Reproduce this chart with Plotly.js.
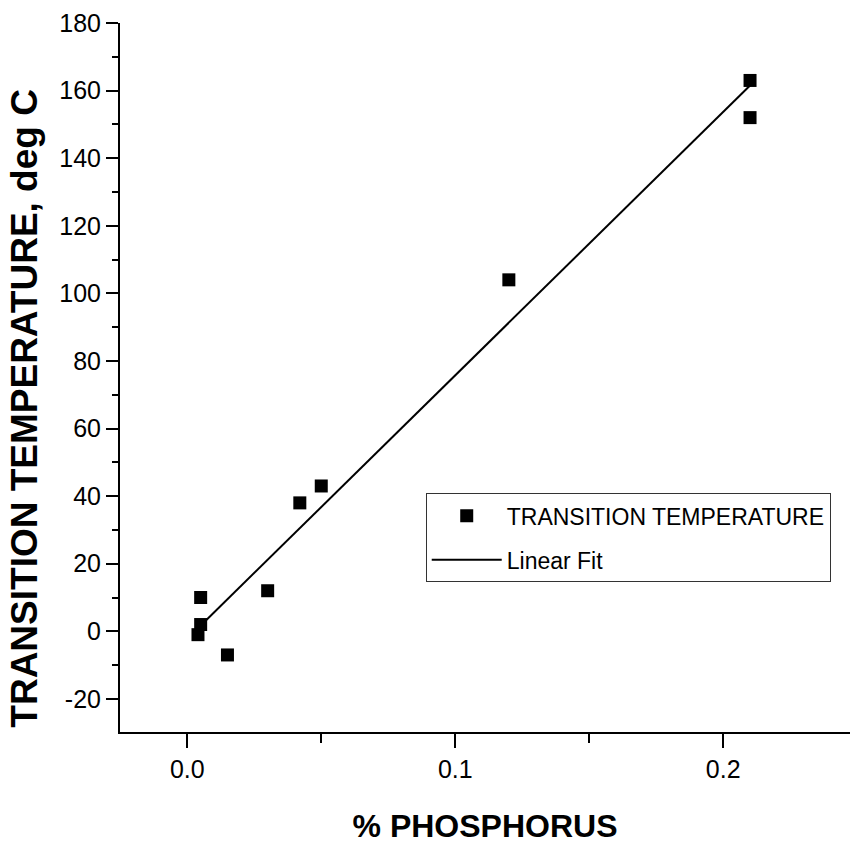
<!DOCTYPE html>
<html>
<head>
<meta charset="utf-8">
<script src="https://cdn.plot.ly/plotly-3.0.1.min.js"></script>
<style>html,body{margin:0;padding:0;background:#fff;}#chart{width:852px;height:846px;}</style>
</head>
<body>
<div id="chart"></div>
<script>
// Measured data: % phosphorus vs transition temperature (deg C)
const phosphorus = [0.004, 0.005, 0.005, 0.015, 0.03, 0.042, 0.05, 0.12, 0.21, 0.21];
const transitionTemp = [-1, 10, 2, -7, 12, 38, 43, 104, 163, 152];
// Linear fit line end points
const fitX = [0.004, 0.21];
const fitY = [0.9, 161.5];
// Axis ticks
const xTicks = [0.0, 0.1, 0.2];
const xTickLabels = ["0.0", "0.1", "0.2"];
const yTicks = [-20, 0, 20, 40, 60, 80, 100, 120, 140, 160, 180];
const yTickLabels = ["-20", "0", "20", "40", "60", "80", "100", "120", "140", "160", "180"];

const FONT = '"Liberation Sans Narrow", "Arial Narrow", "Liberation Sans", Arial, sans-serif';
const BOLD = '"Liberation Sans", Arial, sans-serif';

const traces = [
  {
    x: phosphorus, y: transitionTemp, type: 'scatter', mode: 'markers',
    name: 'TRANSITION TEMPERATURE', legendgroup: 'a',
    marker: {symbol: 'square', size: 13, color: '#000'}
  },
  {
    x: fitX, y: fitY, type: 'scatter', mode: 'lines',
    name: 'Linear Fit', legendgroup: 'b',
    line: {color: '#000', width: 2}
  }
];

const layout = {
  width: 852, height: 846,
  paper_bgcolor: '#fff', plot_bgcolor: '#fff',
  margin: {l: 120, r: 2, t: 23, b: 114, pad: 0},
  font: {family: FONT, color: '#000', size: 25},
  showlegend: true,
  legend: {
    x: 0.4188, y: 0.3367, xanchor: 'left', yanchor: 'top',
    bordercolor: '#333', borderwidth: 1, bgcolor: '#fff',
    font: {family: FONT, size: 23, color: '#000'},
    tracegroupgap: 11, itemwidth: 70
  },
  xaxis: {
    range: [-0.0251, 0.2473], tickvals: xTicks, ticktext: xTickLabels,
    showline: true, linecolor: '#000', linewidth: 2,
    ticks: 'outside', ticklen: 14, tickwidth: 2, tickcolor: '#000',
    minor: {dtick: 0.05, ticks: 'outside', ticklen: 9, tickwidth: 2, tickcolor: '#000', showgrid: false},
    showgrid: false, zeroline: false,
    tickfont: {family: FONT, size: 25, color: '#000'},
    title: {text: '% PHOSPHORUS', font: {family: BOLD, size: 32, color: '#000', weight: 'bold'}, standoff: 33},
    automargin: false
  },
  yaxis: {
    range: [-29.8, 180], tickvals: yTicks, ticktext: yTickLabels,
    showline: true, linecolor: '#000', linewidth: 2,
    ticks: 'outside', ticklen: 12, tickwidth: 2, tickcolor: '#000',
    minor: {dtick: 10, ticks: 'outside', ticklen: 6, tickwidth: 2, tickcolor: '#000', showgrid: false},
    showgrid: false, zeroline: false,
    tickfont: {family: FONT, size: 25, color: '#000'},
    title: {text: ''},
    automargin: false
  },
  annotations: [
    {
      text: '<b>TRANSITION TEMPERATURE, deg C</b>', textangle: -90,
      xref: 'paper', yref: 'paper', x: 0, y: 0.456,
      xanchor: 'center', yanchor: 'middle', xshift: -95, showarrow: false,
      font: {family: BOLD, size: 37, color: '#000'}
    }
  ]
};

Plotly.newPlot('chart', traces, layout, {displayModeBar: false, staticPlot: true});
</script>
</body>
</html>
